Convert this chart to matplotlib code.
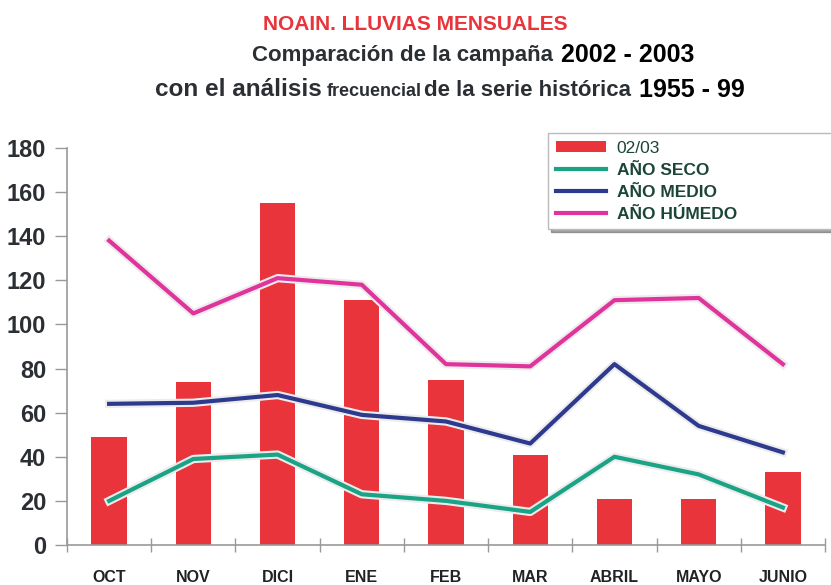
import matplotlib
matplotlib.use("Agg")
import matplotlib.pyplot as plt
from matplotlib import font_manager as fm
import matplotlib.patheffects as pe
from matplotlib.lines import Line2D
from matplotlib.patches import Patch
import numpy as np

months = ["OCT", "NOV", "DICI", "ENE", "FEB", "MAR", "ABRIL", "MAYO", "JUNIO"]
lluvia_0203 = [49, 74, 155, 111, 75, 41, 21, 21, 33]
ano_seco = [20, 39, 41, 23, 20, 15, 40, 32, 17]
ano_medio = [64, 64.5, 68, 59, 56, 46, 82, 54, 42]
ano_humedo = [138, 105, 121, 118, 82, 81, 111, 112, 82]
yticks = [0, 20, 40, 60, 80, 100, 120, 140, 160, 180]

names = {f.name for f in fm.fontManager.ttflist}
FAM = "Liberation Sans Narrow" if "Liberation Sans Narrow" in names else "Liberation Sans"
plt.rcParams['font.family'] = [FAM, 'DejaVu Sans']

W, H = 831, 585
fig = plt.figure(figsize=(W/100, H/100), dpi=100)
ax = fig.add_axes([67/W, (H-545)/H, (825-67)/W, (545-148)/H])

x = np.arange(len(months))
ax.bar(x, lluvia_0203, width=0.42, color="#e8343a", zorder=2)

glow = [pe.Stroke(linewidth=6, foreground="#ececec"), pe.Normal()]
ax.plot(x, ano_seco, color="#1aa385", lw=3, zorder=3, path_effects=glow)
ax.plot(x, ano_medio, color="#2e3a8e", lw=3, zorder=3, path_effects=glow)
ax.plot(x, ano_humedo, color="#e0349c", lw=3, zorder=3, path_effects=glow)

ax.set_xlim(-0.5, 8.5)
ax.set_ylim(0, 180)
ax.set_yticks(yticks)
ax.set_yticklabels([str(v) for v in yticks], fontsize=17, fontweight="bold", color="#2b2f33")
ax.tick_params(axis="y", direction="out", length=9, width=1, color="#999999", pad=6)
ax.set_xticks(x)
ax.set_xticklabels(months, fontsize=11.5, fontweight="bold", color="#1f2326")
ax.tick_params(axis="x", which="major", length=0, pad=18)
ax.set_xticks(np.arange(-0.5, 9.0, 1.0), minor=True)
ax.tick_params(axis="x", which="minor", direction="inout", length=10, width=1, color="#999999")
for s in ["top", "right"]:
    ax.spines[s].set_visible(False)
ax.spines["left"].set_color("#999999")
ax.spines["bottom"].set_color("#999999")
ax.spines["left"].set_linewidth(1.2)
ax.spines["bottom"].set_linewidth(1.2)

# legend
handles = [Patch(facecolor="#e8343a"),
           Line2D([], [], color="#1aa385", lw=3),
           Line2D([], [], color="#2e3a8e", lw=3),
           Line2D([], [], color="#e0349c", lw=3)]
labels = ["02/03", "AÑO SECO", "AÑO MEDIO", "AÑO HÚMEDO"]
leg = fig.legend(handles, labels, loc="upper left",
                 bbox_to_anchor=(548/W, 1-230/H, (845-548)/W, (230-133)/H),
                 mode="expand",
                 frameon=True, fancybox=False, shadow=True, fontsize=12.5,
                 handlelength=2.9, handleheight=0.6, labelspacing=0.4,
                 borderpad=0.45, handletextpad=0.6, borderaxespad=0)
leg.get_frame().set_edgecolor("#bbbbbb")
leg.get_frame().set_linewidth(1)
for i, t in enumerate(leg.get_texts()):
    t.set_color("#1c4538")
    if i > 0:
        t.set_fontweight("bold")

# titles
def ftext(px, py, s, **kw):
    fig.text(px/W, 1-py/H, s, **kw)

ftext(415, 25, "NOAIN. LLUVIAS MENSUALES", ha="center", va="center",
      fontsize=15, fontweight="bold", color="#e8343a")
ftext(553, 55, "Comparación de la campaña", ha="right", va="center",
      fontsize=16, fontweight="bold", color="#2b2f33")
ftext(561, 55, "2002 - 2003", ha="left", va="center",
      fontsize=18, fontweight="bold", color="#000000")
ftext(322, 90, "con el análisis", ha="right", va="center",
      fontsize=17.5, fontweight="bold", color="#2b2f33")
ftext(374, 91, "frecuencial", ha="center", va="center",
      fontsize=13, fontweight="bold", color="#2b2f33")
ftext(424, 90, "de la serie histórica", ha="left", va="center",
      fontsize=16, fontweight="bold", color="#2b2f33")
ftext(639, 90, "1955 - 99", ha="left", va="center",
      fontsize=18, fontweight="bold", color="#000000")

fig.savefig("out.png", dpi=100)
